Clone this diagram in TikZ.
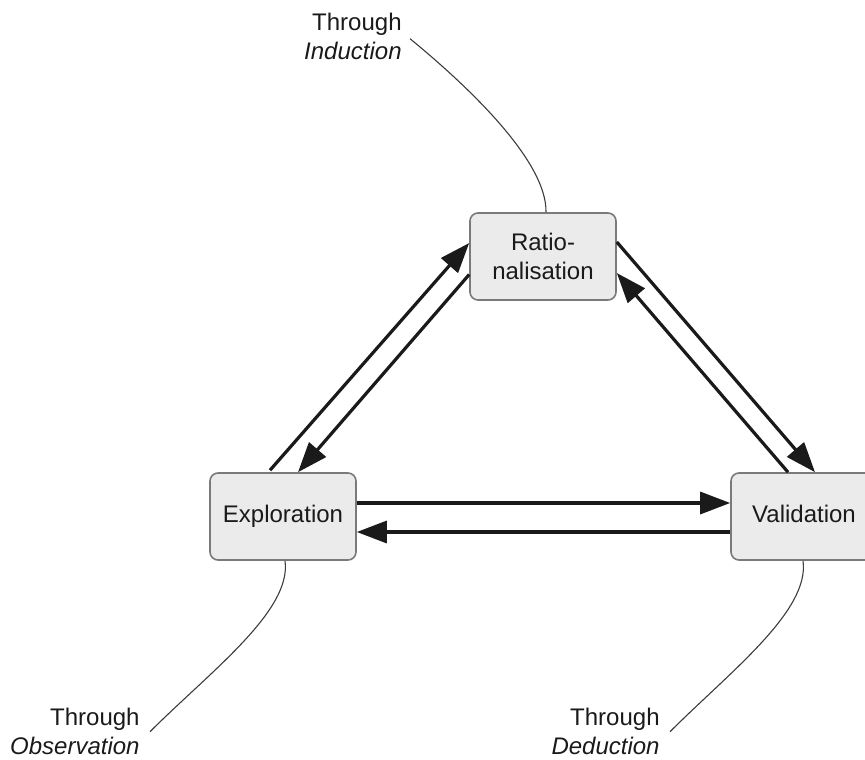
\documentclass[tikz,border=0pt]{standalone}
\usepackage{fontspec}
\setmainfont{Liberation Sans}
\usetikzlibrary{arrows.meta}
\definecolor{boxfill}{HTML}{EBEBEB}
\definecolor{boxline}{HTML}{7A7A7A}
\definecolor{ink}{HTML}{1A1A1A}
\begin{document}
\begin{tikzpicture}[x=0.5pt,y=-0.5pt,
  stage/.style={draw=boxline, line width=0.8pt, fill=boxfill, rounded corners=4pt,
    minimum width=73pt, minimum height=43.5pt, inner sep=0pt, align=center,
    font=\fontsize{12}{14.5}\selectfont, text=ink},
  arr/.style={draw=ink, line width=1.6pt, -{Triangle[length=15pt,width=11pt]}},
  lbl/.style={inner sep=0pt, align=right, font=\fontsize{12}{14.5}\selectfont, text=ink},
  leader/.style={draw=ink!85, line width=0.55pt}]
\clip (0,0) rectangle (865,759);
\node[stage] (rat) at (543,256.5) {Ratio-\\nalisation};
\node[stage] (exp) at (283,516.5) {\strut Exploration};
\node[stage] (val) at (804,516.5) {\strut Validation};
\node[lbl, anchor=north east] (ind) at (402,13) {Through\\\textit{Induction}};
\node[lbl, anchor=north east] (obs) at (140,708) {Through\\\textit{Observation}};
\node[lbl, anchor=north east] (ded) at (660,708) {Through\\\textit{Deduction}};
% arrows
\draw[arr] ([xshift=-6.5pt,yshift=1pt]exp.north) -- ([yshift=6.75pt]rat.west);
\draw[arr] ([yshift=-9pt]rat.west) -- ([xshift=7.5pt]exp.north);
\draw[arr] ([yshift=7.25pt]rat.east) -- ([xshift=5.5pt]val.north);
\draw[arr] ([xshift=-8pt]val.north) -- ([yshift=-8.25pt]rat.east);
\draw[arr] ([yshift=6.75pt]exp.east) -- ([yshift=6.75pt]val.west);
\draw[arr] ([yshift=-7.75pt]val.west) -- ([yshift=-7.75pt]exp.east);
% leaders
\draw[leader] ([xshift=4pt,yshift=-1pt]ind.east) .. controls +(55,45) and +(1,-52) .. ([xshift=1.5pt]rat.north);
\draw[leader] ([xshift=1pt]exp.south) .. controls +(7,50) and +(60,-60) .. ([xshift=5pt]obs.east);
\draw[leader] ([xshift=-0.5pt]val.south) .. controls +(7,50) and +(60,-60) .. ([xshift=5pt]ded.east);
\end{tikzpicture}
\end{document}
